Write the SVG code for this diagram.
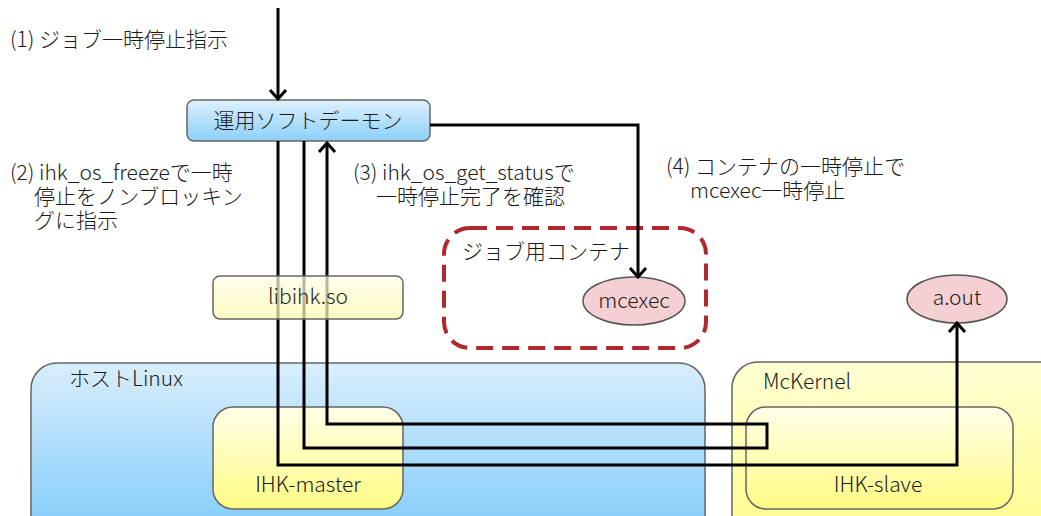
<svg xmlns="http://www.w3.org/2000/svg" width="1041" height="516" viewBox="0 0 1041 516">
<defs>
<linearGradient id="gBlue" x1="0" y1="0" x2="0" y2="1"><stop offset="0" stop-color="#def1fd"/><stop offset="1" stop-color="#8ccff8"/></linearGradient>
<linearGradient id="gHost" x1="0" y1="0" x2="0" y2="1"><stop offset="0" stop-color="#d9eefc"/><stop offset="1" stop-color="#7ecafa"/></linearGradient>
<linearGradient id="gYel" x1="0" y1="0" x2="0" y2="1"><stop offset="0" stop-color="#ffffe8"/><stop offset="1" stop-color="#fffb84"/></linearGradient>
<linearGradient id="gMck" x1="0" y1="0" x2="0" y2="1"><stop offset="0" stop-color="#ffffd4"/><stop offset="1" stop-color="#fffc8c"/></linearGradient>
<linearGradient id="gLib" x1="0" y1="0" x2="0" y2="1"><stop offset="0" stop-color="#fefee6"/><stop offset="1" stop-color="#fcf9a8"/></linearGradient>
<marker id="arr" viewBox="-12 -10 14 20" markerWidth="14" markerHeight="20" refX="0" refY="0" orient="auto" markerUnits="userSpaceOnUse">
<path d="M-9,-8 L0,0 L-9,8" fill="none" stroke="#000" stroke-width="3" stroke-linejoin="miter"/>
</marker>
</defs>
<style>
text{font-family:"Noto Sans CJK JP","Noto Sans",sans-serif;font-size:21px;font-weight:300;fill:#1a1a1a}
.box{stroke:#666;stroke-width:1.5}
.c{text-anchor:middle}
.line{fill:none;stroke:#000;stroke-width:3}
.ell{fill:#f4cfd3;stroke:#555;stroke-width:1.5}
</style>
<rect width="1041" height="516" fill="#fff"/>

<g id="label1"><text x="10" y="47">(1) ジョブ一時停止指示</text></g>
<g id="label2"><text x="10" y="180">(2) ihk_os_freezeで一時</text><text x="34" y="204">停止をノンブロッキン</text><text x="34" y="228">グに指示</text></g>
<g id="label3"><text x="353" y="180">(3) ihk_os_get_statusで</text><text x="376" y="204">一時停止完了を確認</text></g>
<g id="label4"><text x="666" y="174">(4) コンテナの一時停止で</text><text x="690" y="198">mcexec一時停止</text></g>

<g id="host-linux"><rect class="box" x="31" y="363" width="674" height="180" rx="26" fill="url(#gHost)"/><text x="69" y="386">ホストLinux</text></g>
<g id="ihk-master"><rect class="box" x="213" y="407" width="190" height="102" rx="20" fill="url(#gYel)"/><text class="c" x="308" y="492">IHK-master</text></g>
<g id="mckernel"><rect class="box" x="732" y="362" width="340" height="180" rx="26" fill="url(#gMck)"/><text x="763" y="389">McKernel</text></g>
<g id="ihk-slave"><rect class="box" x="746" y="407" width="267" height="102" rx="20" fill="url(#gYel)"/><text class="c" x="878" y="492">IHK-slave</text></g>

<g id="job-container"><rect x="444" y="228" width="262" height="120" rx="26" fill="none" stroke="#b0282e" stroke-width="4" stroke-dasharray="17 9"/><text x="462" y="259">ジョブ用コンテナ</text></g>
<g id="mcexec"><ellipse class="ell" cx="634" cy="301" rx="51" ry="24"/><text class="c" x="634" y="308">mcexec</text></g>
<g id="aout"><ellipse class="ell" cx="957" cy="299" rx="50" ry="24"/><text class="c" x="957" y="305">a.out</text></g>

<g id="daemon"><rect class="box" x="187" y="100" width="243" height="41" rx="7" fill="url(#gBlue)"/><text class="c" x="308" y="128">運用ソフトデーモン</text></g>

<g id="connectors">
<path class="line" d="M278,8 V99" marker-end="url(#arr)"/>
<path class="line" d="M430,125 H638 V277" marker-end="url(#arr)"/>
<path class="line" d="M278,141 V465 H957 V323" marker-end="url(#arr)"/>
<path class="line" d="M304,141 V448 H767 V424 H327 V143" marker-end="url(#arr)"/>
</g>

<g id="libihk"><rect class="box" x="213" y="276" width="190" height="43" rx="7" fill="url(#gLib)" fill-opacity="0.72"/><text class="c" x="308" y="304">libihk.so</text></g>
</svg>
